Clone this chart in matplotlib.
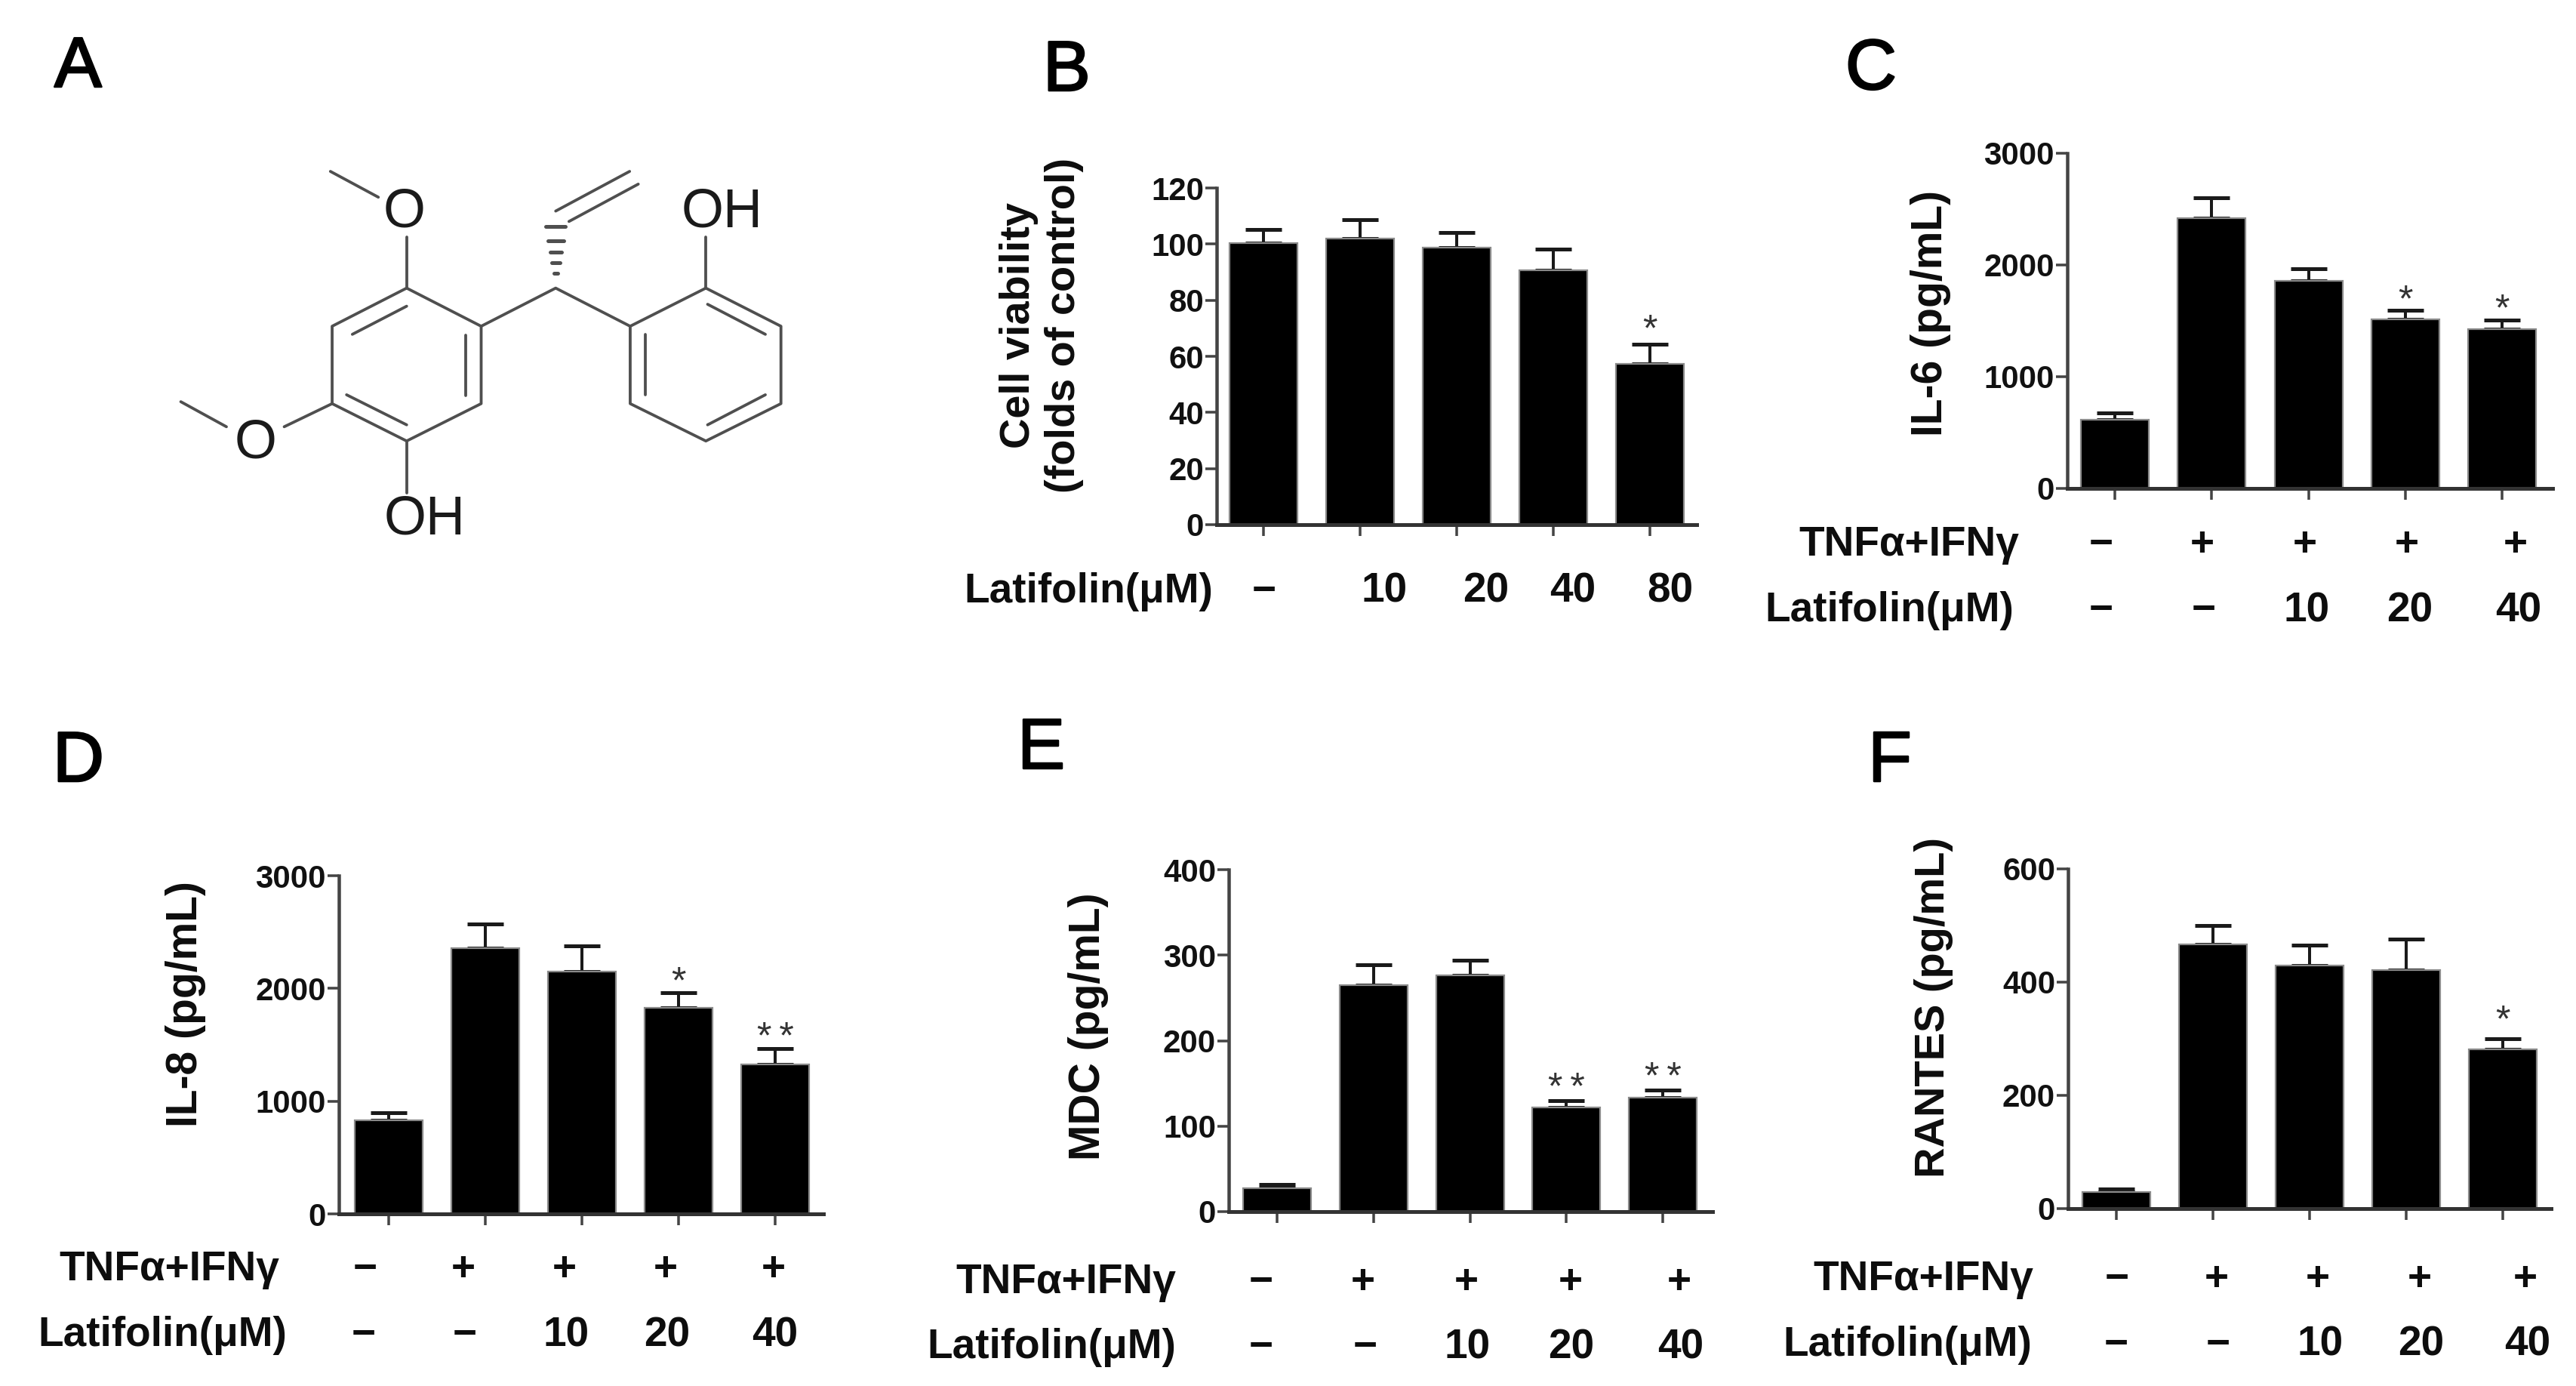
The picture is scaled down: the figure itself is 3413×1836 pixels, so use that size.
import matplotlib
matplotlib.use("Agg")
import matplotlib.pyplot as plt
import matplotlib.patheffects as pe
import numpy as np

plt.rcParams['font.family'] = ['Liberation Sans', 'DejaVu Sans']

W, H = 3413, 1836
DPI = 100
PX = 72 / DPI  # points per pixel

# ---- data ----
b_values = [100.4, 102, 98.8, 90.6, 57.2]
b_tops = [105.2, 108.7, 104, 98.2, 64.3]
b_sig = ['', '', '', '', '*']
b_ticks = [0, 20, 40, 60, 80, 100, 120]

c_values = [618, 2421, 1857, 1513, 1426]
c_tops = [678, 2602, 1969, 1592, 1510]
c_sig = ['', '', '', '*', '*']
c_ticks = [0, 1000, 2000, 3000]

d_values = [832, 2360, 2152, 1831, 1324]
d_tops = [900, 2569, 2376, 1960, 1468]
d_sig = ['', '', '', '*', '*\u2009*']
d_ticks = [0, 1000, 2000, 3000]

e_values = [27, 265, 276, 122, 133]
e_tops = [32, 289, 294, 130, 142]
e_sig = ['', '', '', '*\u2009*', '*\u2009*']
e_ticks = [0, 100, 200, 300, 400]

f_values = [30, 467, 429, 422, 281]
f_tops = [35, 500, 466, 476, 300]
f_sig = ['', '', '', '', '*']
f_ticks = [0, 200, 400, 600]

treat_marks = ['−', '+', '+', '+', '+']
dose_marks_b = ['−', '10', '20', '40', '80']
dose_marks = ['−', '−', '10', '20', '40']

fig = plt.figure(figsize=(W / DPI, H / DPI), dpi=DPI, facecolor='white')


def ftext(x, y, s, size, **kw):
    kw.setdefault('color', '#0d0d0d')
    kw.setdefault('fontweight', 'bold')
    kw.setdefault('ha', 'center')
    kw.setdefault('va', 'center')
    return fig.text(x / W, 1 - y / H, s, fontsize=size * PX, **kw)


def panel(values, tops, sig, ticks, ylabel, spine_x, right_x, y_top, y_zero,
          c0, c4, ylab_x, ylab_y, ylab_size=58, sig_off=24):
    ax = fig.add_axes([spine_x / W, 1 - y_zero / H,
                       (right_x - spine_x) / W, (y_zero - y_top) / H])
    s = (c4 - c0) / 4
    ax.set_xlim(-(c0 - spine_x) / s, (right_x - c0) / s)
    ax.set_ylim(0, ticks[-1])
    ax.patch.set_alpha(0)
    xs = np.arange(5)
    ax.bar(xs, values, width=90 / s, color='black',
           edgecolor='#8a8a8a', linewidth=2.2 * PX, zorder=2)
    lower = np.zeros(5)
    upper = np.array(tops) - np.array(values)
    ax.errorbar(xs, values, yerr=[lower, upper], fmt='none', ecolor='#1a1a1a',
                elinewidth=4 * PX, capsize=24 * PX, capthick=5 * PX, zorder=1)
    for x, t, mark in zip(xs, tops, sig):
        if mark:
            ax.annotate(mark, (x, t), xytext=(0, (sig_off - 22) * PX),
                        textcoords='offset points', ha='center', va='baseline',
                        fontsize=50 * PX, color='#333333')
    for side in ('top', 'right'):
        ax.spines[side].set_visible(False)
    ax.spines['left'].set_linewidth(4.5 * PX)
    ax.spines['left'].set_color('#444444')
    ax.spines['bottom'].set_linewidth(5 * PX)
    ax.spines['bottom'].set_color('#333333')
    ax.set_xticks(xs)
    ax.set_xticklabels([])
    ax.set_yticks(ticks)
    ax.set_yticklabels([str(t) for t in ticks], fontsize=42 * PX,
                       fontweight='bold', color='#111111')
    ax.tick_params(axis='y', length=15 * PX, width=3.5 * PX, color='#444444',
                   pad=2 * PX)
    ax.tick_params(axis='x', length=15 * PX, width=3.5 * PX, color='#444444')
    ftext(ylab_x, ylab_y, ylabel, ylab_size, rotation=90)
    return ax


def rows(label_right, y, marks, xs, label, size=55):
    ftext(label_right, y + 3, label, size, ha='right')
    for x, m in zip(xs, marks):
        ftext(x, y + 3, m, size)


# Panel B
panel(b_values, b_tops, b_sig, b_ticks, 'Cell viability\n(folds of control)',
      1612, 2248, 249, 695, 1674, 2186, 1380, 431, ylab_size=56, sig_off=27)
rows(1607, 781, dose_marks_b, [1675, 1834, 1969, 2084, 2213], 'Latifolin(μM)')

# Panel C
panel(c_values, c_tops, c_sig, c_ticks, 'IL-6 (pg/mL)',
      2739, 3382, 203, 647, 2802, 3315, 2558, 415, ylab_size=57, sig_off=21)
rows(2675, 719, treat_marks, [2784, 2918, 3054, 3189, 3333], 'TNFα+IFNγ')
rows(2668, 806, dose_marks, [2784, 2920, 3056, 3193, 3337], 'Latifolin(μM)')

# Panel D
panel(d_values, d_tops, d_sig, d_ticks, 'IL-8 (pg/mL)',
      449, 1091, 1160, 1608, 515, 1027, 246, 1330, ylab_size=57, sig_off=22)
rows(370, 1679, treat_marks, [484, 614, 748, 882, 1025], 'TNFα+IFNγ')
rows(380, 1766, dose_marks, [482, 616, 750, 884, 1027], 'Latifolin(μM)')

# Panel E
panel(e_values, e_tops, e_sig, e_ticks, 'MDC (pg/mL)',
      1628, 2269, 1152, 1605, 1692, 2203, 1442, 1360, ylab_size=57, sig_off=24)
rows(1558, 1696, treat_marks, [1671, 1806, 1943, 2081, 2225], 'TNFα+IFNγ')
rows(1558, 1782, dose_marks, [1671, 1809, 1944, 2082, 2227], 'Latifolin(μM)')

# Panel F
panel(f_values, f_tops, f_sig, f_ticks, 'RANTES (pg/mL)',
      2740, 3380, 1151, 1601, 2804, 3316, 2562, 1335, ylab_size=56, sig_off=32)
rows(2694, 1692, treat_marks, [2805, 2937, 3071, 3206, 3346], 'TNFα+IFNγ')
rows(2692, 1779, dose_marks, [2804, 2939, 3074, 3208, 3349], 'Latifolin(μM)')

# Panel letters
letters = ['A', 'B', 'C', 'D', 'E', 'F']
letter_x = [72, 1382, 2445, 70, 1348, 2475]
letter_base = [115, 120, 118, 1035, 1018, 1035]
for s, x, y in zip(letters, letter_x, letter_base):
    t = ftext(x, y, s, 94, ha='left', va='baseline', fontweight='normal', color='black')
    t.set_path_effects([pe.withStroke(linewidth=2.5 * PX, foreground='black')])

# Chemical structure in panel A (drawing, not data)
mol = fig.add_axes([0, 0, 1, 1])
mol.set_xlim(0, W)
mol.set_ylim(H, 0)
mol.axis('off')
mol.patch.set_alpha(0)
SX, SY = 1200 / 1568, 800 / 1568


def bond(*pts, lw=3.8):
    xs = [p[0] * SX for p in pts]
    ys = [p[1] * SY for p in pts]
    mol.plot(xs, ys, color='#4f4f4f', lw=lw * PX, solid_capstyle='round',
             solid_joinstyle='round')


bond((704, 748), (833, 847), (833, 1048), (704, 1145), (575, 1048), (575, 847), (704, 748))
bond((610, 868), (704, 795))
bond((806, 870), (806, 1028))
bond((600, 1025), (704, 1103))
bond((704, 748), (704, 615))
bond((655, 512), (572, 445))
bond((575, 1048), (492, 1108))
bond((392, 1108), (313, 1043))
bond((704, 1145), (704, 1280))
bond((833, 847), (962, 748), (1091, 847))
bond((1222, 748), (1352, 847), (1352, 1048), (1222, 1145), (1091, 1048), (1091, 847), (1222, 748))
bond((1225, 790), (1325, 868))
bond((1117, 868), (1117, 1025))
bond((1225, 1103), (1325, 1025))
bond((1222, 748), (1222, 615))
bond((962, 548), (1090, 445))
bond((985, 575), (1105, 478))
for yy, half in zip((710, 683, 655, 625, 588), (3, 7, 10, 14, 17)):
    bond((962 - half, yy), (962 + half, yy), lw=5)

MOL_DY = 5
ftext(700 * SX, 543 * SY + MOL_DY, 'O', 72, fontweight='normal', color='#1a1a1a')
ftext(442 * SX, 1143 * SY + MOL_DY, 'O', 72, fontweight='normal', color='#1a1a1a')
ftext(665 * SX, 1340 * SY + MOL_DY, 'OH', 72, ha='left', fontweight='normal', color='#1a1a1a')
ftext(1180 * SX, 543 * SY + MOL_DY, 'OH', 72, ha='left', fontweight='normal', color='#1a1a1a')

fig.savefig('out.png', dpi=DPI, facecolor='white')
